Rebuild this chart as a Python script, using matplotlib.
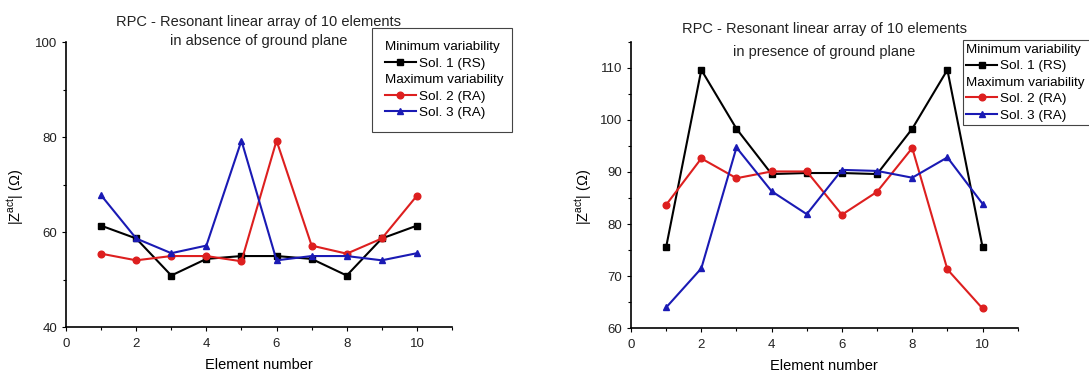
import matplotlib
matplotlib.use("Agg")
import matplotlib.pyplot as plt
from matplotlib.text import Text
from matplotlib.legend_handler import HandlerBase
from matplotlib.ticker import MultipleLocator

plt.rcParams['font.family'] = ['Liberation Sans', 'DejaVu Sans']
plt.rcParams['mathtext.fontset'] = 'custom'
plt.rcParams['mathtext.rm'] = 'Liberation Sans'
plt.rcParams['mathtext.it'] = 'Liberation Sans:italic'

# element index along the array
elements = [1, 2, 3, 4, 5, 6, 7, 8, 9, 10]

# |Z_act| in absence of ground plane
absent_sol1 = [61.4, 58.7, 50.9, 54.4, 55.0, 55.0, 54.4, 50.9, 58.7, 61.4]
absent_sol2 = [55.5, 54.1, 55.0, 55.0, 53.9, 79.3, 57.2, 55.5, 58.7, 67.7]
absent_sol3 = [67.8, 58.7, 55.6, 57.2, 79.3, 54.1, 55.0, 55.0, 54.1, 55.6]

# |Z_act| in presence of ground plane
present_sol1 = [75.6, 109.6, 98.3, 89.6, 89.8, 89.8, 89.6, 98.3, 109.6, 75.6]
present_sol2 = [83.7, 92.6, 88.8, 90.1, 90.1, 81.8, 86.2, 94.6, 71.3, 63.8]
present_sol3 = [64.0, 71.5, 94.7, 86.3, 81.9, 90.4, 90.2, 88.9, 92.8, 83.9]

series_labels = ["Sol. 1 (RS)", "Sol. 2 (RA)", "Sol. 3 (RA)"]
headers = ["Minimum variability", "Maximum variability"]
titles = [("RPC - Resonant linear array of 10 elements", "in absence of ground plane"),
          ("RPC - Resonant linear array of 10 elements", "in presence of ground plane")]

colors = ["black", "#dd1f1f", "#1a1ab4"]
markers = ["s", "o", "^"]


class Header:
    def __init__(self, text):
        self.text = text


class HeaderHandler(HandlerBase):
    # header rows: text starts where the line samples start
    def create_artists(self, legend, orig_handle, xdescent, ydescent,
                       width, height, fontsize, trans):
        t = Text(-xdescent, -ydescent, orig_handle.text, ha='left', va='baseline',
                 fontproperties=legend.prop, transform=trans)
        return [t]


W, H = 1089, 371
fig = plt.figure(figsize=(W / 100, H / 100), dpi=100)

# axes boxes in pixels: left, right, top, bottom
boxes = [(66, 452, 42.3, 327.3), (631, 1017.7, 41.7, 328.3)]
ylims = [(40, 100), (60, 115)]
ysteps = [20, 10]
title_y = [(22, 40.7), (29.3, 51.7)]
leg_pos = [(372, 28, 140), (963, 40, 133)]
leg_pad = [0.95, 0.25]
ylab_x = [26, 593.7]
data = [(absent_sol1, absent_sol2, absent_sol3), (present_sol1, present_sol2, present_sol3)]

for i in range(2):
    l, r, t, b = boxes[i]
    ax = fig.add_axes([l / W, 1 - b / H, (r - l) / W, (b - t) / H])
    handles = []
    for vals, c, m, lab in zip(data[i], colors, markers, series_labels):
        h, = ax.plot(elements, vals, color=c, marker=m, markersize=4.8, linewidth=1.5, label=lab)
        handles.append(h)

    ax.set_xlim(0, 11)
    ax.set_ylim(*ylims[i])
    ax.xaxis.set_major_locator(MultipleLocator(2))
    ax.xaxis.set_minor_locator(MultipleLocator(1))
    ax.yaxis.set_major_locator(MultipleLocator(ysteps[i]))
    ax.yaxis.set_minor_locator(MultipleLocator(ysteps[i] / 2))
    ax.spines['top'].set_visible(False)
    ax.spines['right'].set_visible(False)
    ax.spines['left'].set_linewidth(1.2)
    ax.spines['bottom'].set_linewidth(1.2)
    ax.tick_params(which='major', direction='out', length=3, width=0.8, labelsize=9.5,
                   labelcolor='#222222', pad=3.2)
    ax.tick_params(which='minor', direction='out', length=2, width=0.8)
    ax.tick_params(axis='x', which='major', pad=4.5)

    ax.set_xlabel("Element number", fontsize=10.5, labelpad=6)
    ax.set_ylabel("|Z$^{\\mathrm{act}}$| (\u03a9)", fontsize=10.5)
    ax.yaxis.set_label_coords((ylab_x[i] - l) / (r - l), (b - 197) / (b - t))

    for txt, ypx in zip(titles[i], title_y[i]):
        ax.text(0.5, (b - ypx) / (b - t), txt, transform=ax.transAxes, ha='center',
                va='center', fontsize=10.5, color='#222222')

    lx, ly, lw = leg_pos[i]
    leg_handles = [Header(headers[0]), handles[0], Header(headers[1]), handles[1], handles[2]]
    leg_labels = ["", series_labels[0], "", series_labels[1], series_labels[2]]
    leg = ax.legend(leg_handles, leg_labels, handler_map={Header: HeaderHandler()},
                    loc='upper left', bbox_to_anchor=(lx / W, 1 - ly / H, lw / W, 0),
                    bbox_transform=fig.transFigure, mode='expand', borderaxespad=0,
                    borderpad=leg_pad[i], fontsize=9.7, handlelength=2.3, handletextpad=0.22,
                    labelspacing=0.3, fancybox=False, framealpha=1, edgecolor='#444444')
    leg.get_frame().set_linewidth(0.8)

fig.savefig("out.png", dpi=100)
